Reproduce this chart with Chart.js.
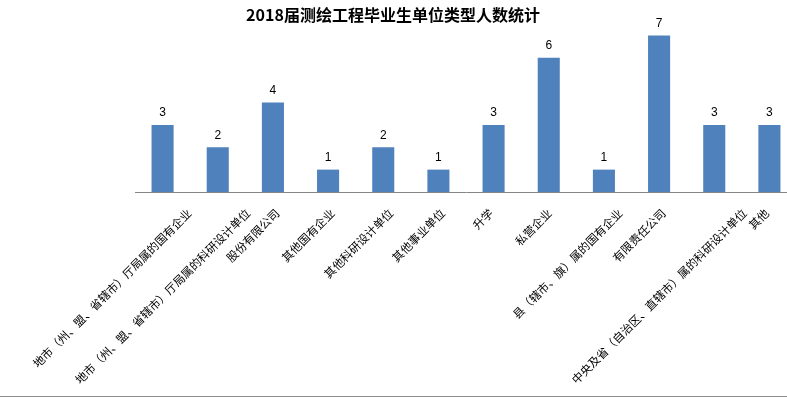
<!DOCTYPE html>
<html lang="zh">
<head>
	<meta charset="UTF-8">
	<title>2018届测绘工程毕业生单位类型人数统计</title>
	<script src="https://cdn.jsdelivr.net/npm/chart.js@4/dist/chart.umd.min.js"></script>
	<style>
		html, body { margin: 0; padding: 0; background: #fff; overflow: hidden; }
		#wrap { width: 787px; height: 396px; overflow: hidden; border-bottom: 1px solid #8c8c8c; position: relative; }
		#box { width: 810px; height: 396px; position: relative; }
	</style>
</head>
<body>
	<div id="wrap"><div id="box"><canvas id="barChart"></canvas></div></div>

	<script>
	var chartTitle = "2018届测绘工程毕业生单位类型人数统计";

	var categories = [
		"地市（州、盟、省辖市）厅局属的国有企业",
		"地市（州、盟、省辖市）厅局属的科研设计单位",
		"股份有限公司",
		"其他国有企业",
		"其他科研设计单位",
		"其他事业单位",
		"升学",
		"私营企业",
		"县（辖市、旗）属的国有企业",
		"有限责任公司",
		"中央及省（自治区、直辖市）属的科研设计单位",
		"其他"
	];

	var counts = [3, 2, 4, 1, 2, 1, 3, 6, 1, 7, 3, 3];

	// value labels above each bar + title + rotated category names
	var drawTexts = {
		id: "drawTexts",
		afterDatasetsDraw: function(chart) {
			var ctx = chart.ctx;
			var meta = chart.getDatasetMeta(0);
			ctx.save();
			ctx.font = "12px 'Liberation Sans'";
			ctx.fillStyle = "#000";
			ctx.textAlign = "center";
			ctx.textBaseline = "middle";
			meta.data.forEach(function(bar, i) {
				ctx.fillText(counts[i], bar.x, bar.y - 12);
			});
			ctx.restore();
		},
		afterDraw: function(chart) {
			var ctx = chart.ctx;
			var xs = chart.scales.x;
			ctx.save();
			ctx.font = "bold 16px 'Noto Sans CJK SC'";
			ctx.fillStyle = "#000";
			ctx.textAlign = "center";
			ctx.textBaseline = "middle";
			ctx.fillText(chartTitle, 393, 15);

			ctx.font = "11.5px 'Noto Sans CJK SC'";
			ctx.textAlign = "right";
			for (var i = 0; i < categories.length; i++) {
				var w = ctx.measureText(categories[i]).width;
				var x = xs.getPixelForTick(i) + 0.15 * w - 6;
				var y = xs.top + 19;
				ctx.save();
				ctx.translate(x, y);
				ctx.rotate(-Math.PI / 4);
				ctx.fillText(categories[i], 0, 0);
				ctx.restore();
			}
			ctx.restore();
		}
	};

	var ctx = document.getElementById("barChart").getContext("2d");
	var myChart = new Chart(ctx, {
		type: "bar",
		data: {
			labels: categories,
			datasets: [{
				label: "人数",
				data: counts,
				backgroundColor: "#4f81bd",
				barPercentage: 0.4,
				categoryPercentage: 1
			}]
		},
		options: {
			responsive: true,
			maintainAspectRatio: false,
			animation: false,
			layout: { padding: { left: 135, right: 13, top: 13, bottom: 204 } },
			plugins: {
				legend: { display: false },
				tooltip: { enabled: false }
			},
			scales: {
				x: {
					grid: { display: false },
					ticks: { display: false },
					border: { display: true, color: "#868686", width: 1 },
					afterFit: function(scale) { scale.height = 0; }
				},
				y: {
					display: false,
					min: 0,
					max: 8
				}
			}
		},
		plugins: [drawTexts]
	});
	</script>
</body>
</html>
